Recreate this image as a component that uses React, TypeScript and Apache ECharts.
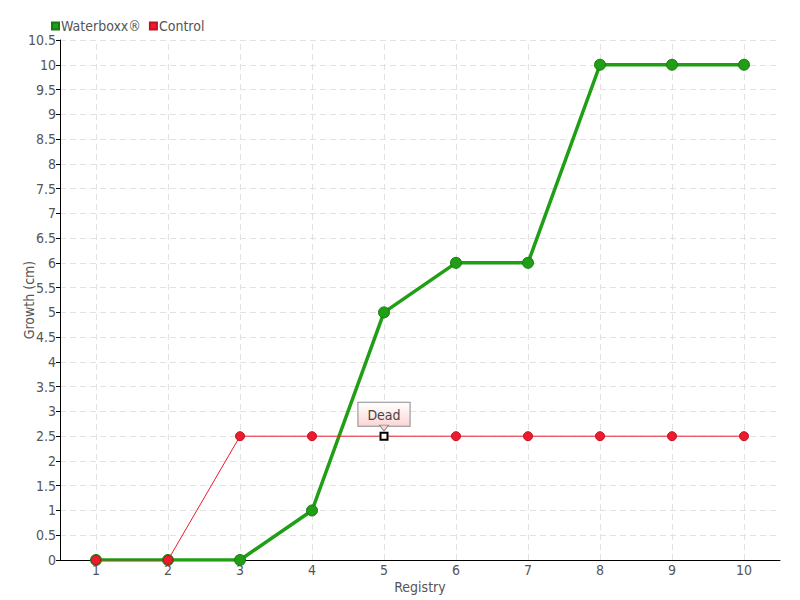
import React, { useEffect, useRef } from "react";
import * as echarts from "echarts";

const categories = ["1", "2", "3", "4", "5", "6", "7", "8", "9", "10"];
const waterboxx = [0, 0, 0, 1, 5, 6, 6, 10, 10, 10];
const control = [0, 0, 2.5, 2.5, 2.5, 2.5, 2.5, 2.5, 2.5, 2.5];
const deadIndex = 4;
const deadLabel = "Dead";

const FONT = "'Liberation Sans Narrow', 'DejaVu Sans Condensed', 'Roboto', sans-serif";
const GREEN = "#1f9e16";
const RED = "#ec1b2e";
const TEXT = "#555";

export default function App() {
  const ref = useRef<HTMLDivElement>(null);
  useEffect(() => {
    if (!ref.current) return;
    const chart = echarts.init(ref.current, null, { renderer: "svg" });
    const controlData = control.map((v, i) =>
      i === deadIndex
        ? {
            value: v,
            symbol: "rect",
            symbolSize: 7,
            itemStyle: { color: "#fff", borderColor: "#000", borderWidth: 2 },
            label: {
              show: true,
              formatter: deadLabel,
              position: "top",
              distance: 6,
              color: "#444",
              fontFamily: FONT,
              fontSize: 14,
              padding: [5, 9, 4, 9],
              backgroundColor: {
                type: "linear",
                x: 0,
                y: 0,
                x2: 0,
                y2: 1,
                colorStops: [
                  { offset: 0, color: "#ffffff" },
                  { offset: 1, color: "#fcd6d6" },
                ],
              },
              borderColor: "#8a8a8a",
              borderWidth: 1,
            },
          }
        : v
    );
    chart.setOption({
      animation: false,
      backgroundColor: "#fff",
      textStyle: { fontFamily: FONT },
      legend: {
        data: ["Waterboxx®", "Control"],
        left: 46,
        top: 14,
        icon: "rect",
        itemWidth: 7,
        itemHeight: 7,
        itemGap: 8,
        textStyle: { color: TEXT, fontSize: 14, fontFamily: FONT, padding: [0, 0, 0, -3] },
      },
      grid: { left: 60, right: 20, top: 40, bottom: 40, containLabel: false, outerBoundsMode: "none" },
      xAxis: {
        type: "category",
        data: categories,
        boundaryGap: true,
        name: "Registry",
        nameLocation: "middle",
        nameGap: 20,
        nameMoveOverlap: false,
        nameTextStyle: { color: TEXT, fontSize: 14, fontFamily: FONT },
        axisLine: { lineStyle: { color: "#000", width: 1 } },
        axisTick: { alignWithLabel: true, length: 4, lineStyle: { color: "#000" } },
        axisLabel: { color: TEXT, fontSize: 14, fontFamily: FONT, margin: 3 },
        splitLine: { show: false },
      },
      yAxis: {
        type: "value",
        min: 0,
        max: 10.5,
        interval: 0.5,
        name: "Growth (cm)",
        nameLocation: "middle",
        nameGap: 24,
        nameMoveOverlap: false,
        nameTextStyle: { color: TEXT, fontSize: 14, fontFamily: FONT },
        axisLine: { show: true, lineStyle: { color: "#000", width: 1 } },
        axisTick: { show: true, length: 4, lineStyle: { color: "#000" } },
        axisLabel: { color: TEXT, fontSize: 14, fontFamily: FONT, margin: 4 },
        splitLine: { show: true, lineStyle: { color: "#e2e2e2", type: [6, 4] } },
      },
      series: [
        {
          type: "line",
          data: [],
          z: 0,
          silent: true,
          markLine: {
            z: 0,
            silent: true,
            symbol: "none",
            label: { show: false },
            lineStyle: { color: "#e2e2e2", type: [6, 4], width: 1 },
            data: categories.map((c) => ({ xAxis: c })),
          },
        },
        {
          name: "Waterboxx®",
          type: "line",
          data: waterboxx,
          z: 6,
          symbol: "circle",
          symbolSize: 11,
          lineStyle: { color: GREEN, width: 3.5 },
          itemStyle: { color: GREEN, borderColor: "#177a12", borderWidth: 1 },
        },
        {
          name: "Control",
          type: "line",
          data: controlData,
          z: 7,
          symbol: "circle",
          symbolSize: 9,
          lineStyle: { color: RED, width: 1 },
          itemStyle: { color: RED, borderColor: "#c41020", borderWidth: 1 },
          markPoint: {
            z: 8,
            silent: true,
            symbol: "triangle",
            symbolRotate: 180,
            symbolSize: [9, 6],
            symbolOffset: [0, -8],
            label: { show: false },
            itemStyle: { color: "#fcd6d6", borderColor: "#8a8a8a", borderWidth: 1 },
            data: [{ coord: [categories[deadIndex], control[deadIndex]] }],
          },
        },
      ],
    });
    return () => chart.dispose();
  }, []);
  return (
    <div
      ref={ref}
      style={{ position: "fixed", left: 0, top: 0, width: 800, height: 600 }}
    />
  );
}
